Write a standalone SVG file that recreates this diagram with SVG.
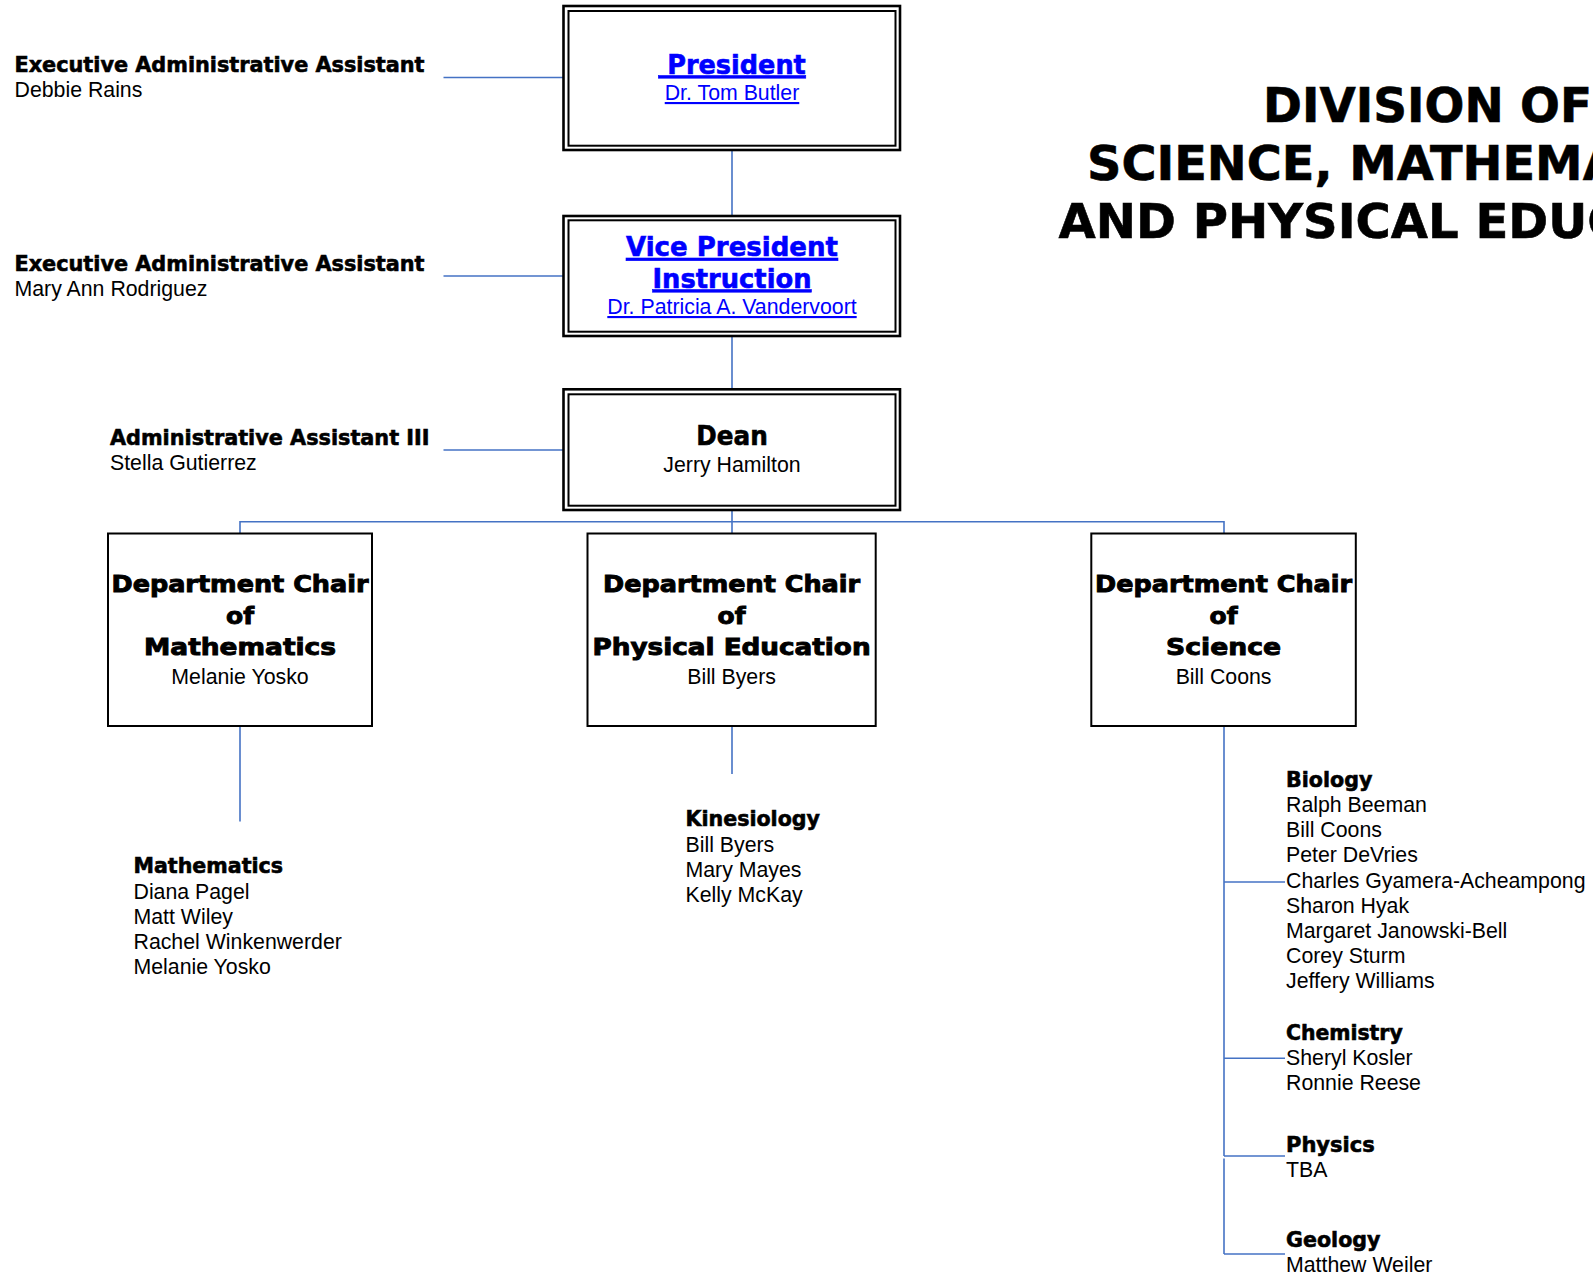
<svg xmlns="http://www.w3.org/2000/svg" width="1593" height="1276" viewBox="0 0 1593 1276">
<style>
.b{font-family:"DejaVu Sans","Liberation Sans",sans-serif;font-weight:bold;fill:#000;stroke:#000;stroke-width:0.6}
.d{font-size:22.5px;stroke-width:0.9}
.r{font-family:"Liberation Sans",Arial,sans-serif;font-size:21.3px;fill:#000}
.lnk{fill:#0000ff;text-decoration:underline}
.b.lnk{stroke:#0000ff}
.c{text-anchor:middle}
.box{fill:#fff;stroke:#000;stroke-width:2}
.ob{fill:#fff;stroke:#000;stroke-width:2.6}
.ib{fill:none;stroke:#000;stroke-width:2}
.con{stroke:#4472c4;stroke-width:1.6;fill:none}
</style>
<rect x="0" y="0" width="1593" height="1276" fill="#fff"/>

<g id="connectors">
<line class="con" x1="443.5" y1="77.5" x2="563.5" y2="77.5"/>
<line class="con" x1="443.5" y1="276" x2="563.5" y2="276"/>
<line class="con" x1="443.5" y1="450" x2="563.5" y2="450"/>
<line class="con" x1="732" y1="150" x2="732" y2="216"/>
<line class="con" x1="732" y1="336" x2="732" y2="389"/>
<line class="con" x1="732" y1="510" x2="732" y2="533.5"/>
<polyline class="con" points="240,533.5 240,521.7 1224,521.7 1224,533.5"/>
<line class="con" x1="240" y1="726" x2="240" y2="821.5"/>
<line class="con" x1="732" y1="726" x2="732" y2="774"/>
<line class="con" x1="1224" y1="726" x2="1224" y2="1156"/>
<line class="con" x1="1224" y1="1158.5" x2="1224" y2="1254"/>
<line class="con" x1="1224" y1="882" x2="1285" y2="882"/>
<line class="con" x1="1224" y1="1058.3" x2="1285" y2="1058.3"/>
<line class="con" x1="1224" y1="1156" x2="1285" y2="1156"/>
<line class="con" x1="1224" y1="1254" x2="1285" y2="1254"/>
</g>

<g id="title">
<text class="b" x="1263" y="122" font-size="48" textLength="329" lengthAdjust="spacingAndGlyphs">DIVISION OF</text>
<text class="b" x="1087" y="180" font-size="48" textLength="532.6" lengthAdjust="spacingAndGlyphs">SCIENCE, MATHEMA</text>
<text class="b" x="1058.6" y="237.5" font-size="48" textLength="564" lengthAdjust="spacingAndGlyphs">AND PHYSICAL EDUC</text>
</g>

<g id="assistant-president">
<text class="b" x="14.5" y="72" font-size="21" textLength="410" lengthAdjust="spacingAndGlyphs">Executive Administrative Assistant</text>
<text class="r" x="14.5" y="97">Debbie Rains</text>
</g>

<g id="assistant-vp">
<text class="b" x="14.5" y="270.5" font-size="21" textLength="410" lengthAdjust="spacingAndGlyphs">Executive Administrative Assistant</text>
<text class="r" x="14.5" y="296">Mary Ann Rodriguez</text>
</g>

<g id="assistant-dean">
<text class="b" x="110" y="444.5" font-size="21" textLength="319.5" lengthAdjust="spacingAndGlyphs">Administrative Assistant III</text>
<text class="r" x="110" y="469.5">Stella Gutierrez</text>
</g>

<g id="president">
<rect class="ob" x="563.5" y="6" width="336.5" height="144"/>
<rect class="ib" x="568.5" y="11" width="327" height="134.7"/>
<text class="b lnk" x="658.3" y="73.5" font-size="27" xml:space="preserve" textLength="147.5" lengthAdjust="spacingAndGlyphs"> President</text>
<text class="r lnk c" x="732" y="100">Dr. Tom Butler</text>
</g>

<g id="vice-president">
<rect class="ob" x="563.5" y="216" width="336.5" height="120"/>
<rect class="ib" x="568.5" y="220.3" width="327" height="111.4"/>
<text class="b lnk c" x="732" y="256" font-size="27" textLength="212" lengthAdjust="spacingAndGlyphs">Vice President</text>
<text class="b lnk c" x="732" y="287.5" font-size="27" textLength="159" lengthAdjust="spacingAndGlyphs">Instruction</text>
<text class="r lnk c" x="732" y="314">Dr. Patricia A. Vandervoort</text>
</g>

<g id="dean">
<rect class="ob" x="563.5" y="389.3" width="336.5" height="120.7"/>
<rect class="ib" x="568.5" y="394.3" width="327" height="111.4"/>
<text class="b c" x="732" y="445" font-size="26" textLength="71.5" lengthAdjust="spacingAndGlyphs">Dean</text>
<text class="r c" x="732" y="472">Jerry Hamilton</text>
</g>

<g id="chair-math">
<rect class="box" x="108" y="533.5" width="264" height="192.5"/>
<text class="b d c" x="240" y="592" textLength="257" lengthAdjust="spacingAndGlyphs">Department Chair</text>
<text class="b d c" x="240" y="623.5" textLength="28" lengthAdjust="spacingAndGlyphs">of</text>
<text class="b d c" x="240" y="655" textLength="192" lengthAdjust="spacingAndGlyphs">Mathematics</text>
<text class="r c" x="240" y="684">Melanie Yosko</text>
</g>

<g id="chair-pe">
<rect class="box" x="587.5" y="533.5" width="288.2" height="192.5"/>
<text class="b d c" x="731.6" y="592" textLength="257" lengthAdjust="spacingAndGlyphs">Department Chair</text>
<text class="b d c" x="731.6" y="623.5" textLength="28" lengthAdjust="spacingAndGlyphs">of</text>
<text class="b d c" x="731.6" y="655" textLength="278" lengthAdjust="spacingAndGlyphs">Physical Education</text>
<text class="r c" x="731.6" y="684">Bill Byers</text>
</g>

<g id="chair-science">
<rect class="box" x="1091.3" y="533.5" width="264.5" height="192.5"/>
<text class="b d c" x="1223.6" y="592" textLength="257" lengthAdjust="spacingAndGlyphs">Department Chair</text>
<text class="b d c" x="1223.6" y="623.5" textLength="28" lengthAdjust="spacingAndGlyphs">of</text>
<text class="b d c" x="1223.6" y="655" textLength="115" lengthAdjust="spacingAndGlyphs">Science</text>
<text class="r c" x="1223.6" y="684">Bill Coons</text>
</g>

<g id="mathematics">
<text class="b" x="133.5" y="872.5" font-size="21" textLength="149.5" lengthAdjust="spacingAndGlyphs">Mathematics</text>
<text class="r" x="133.5" y="898.5">Diana Pagel</text>
<text class="r" x="133.5" y="923.8">Matt Wiley</text>
<text class="r" x="133.5" y="949.1">Rachel Winkenwerder</text>
<text class="r" x="133.5" y="974.4">Melanie Yosko</text>
</g>

<g id="kinesiology">
<text class="b" x="685.5" y="826" font-size="21" textLength="134.5" lengthAdjust="spacingAndGlyphs">Kinesiology</text>
<text class="r" x="685.5" y="851.5">Bill Byers</text>
<text class="r" x="685.5" y="876.8">Mary Mayes</text>
<text class="r" x="685.5" y="902">Kelly McKay</text>
</g>

<g id="biology">
<text class="b" x="1286" y="786.5" font-size="21" textLength="86.4" lengthAdjust="spacingAndGlyphs">Biology</text>
<text class="r" x="1286" y="812">Ralph Beeman</text>
<text class="r" x="1286" y="837.2">Bill Coons</text>
<text class="r" x="1286" y="862.4">Peter DeVries</text>
<text class="r" x="1286" y="887.6">Charles Gyamera-Acheampong</text>
<text class="r" x="1286" y="912.8">Sharon Hyak</text>
<text class="r" x="1286" y="938">Margaret Janowski-Bell</text>
<text class="r" x="1286" y="963.2">Corey Sturm</text>
<text class="r" x="1286" y="988.4">Jeffery Williams</text>
</g>

<g id="chemistry">
<text class="b" x="1286" y="1040" font-size="21" textLength="116.7" lengthAdjust="spacingAndGlyphs">Chemistry</text>
<text class="r" x="1286" y="1065.2">Sheryl Kosler</text>
<text class="r" x="1286" y="1090.4">Ronnie Reese</text>
</g>

<g id="physics">
<text class="b" x="1286" y="1151.5" font-size="21" textLength="88.7" lengthAdjust="spacingAndGlyphs">Physics</text>
<text class="r" x="1286" y="1176.7">TBA</text>
</g>

<g id="geology">
<text class="b" x="1286" y="1247" font-size="21" textLength="94.5" lengthAdjust="spacingAndGlyphs">Geology</text>
<text class="r" x="1286" y="1272">Matthew Weiler</text>
</g>
</svg>
